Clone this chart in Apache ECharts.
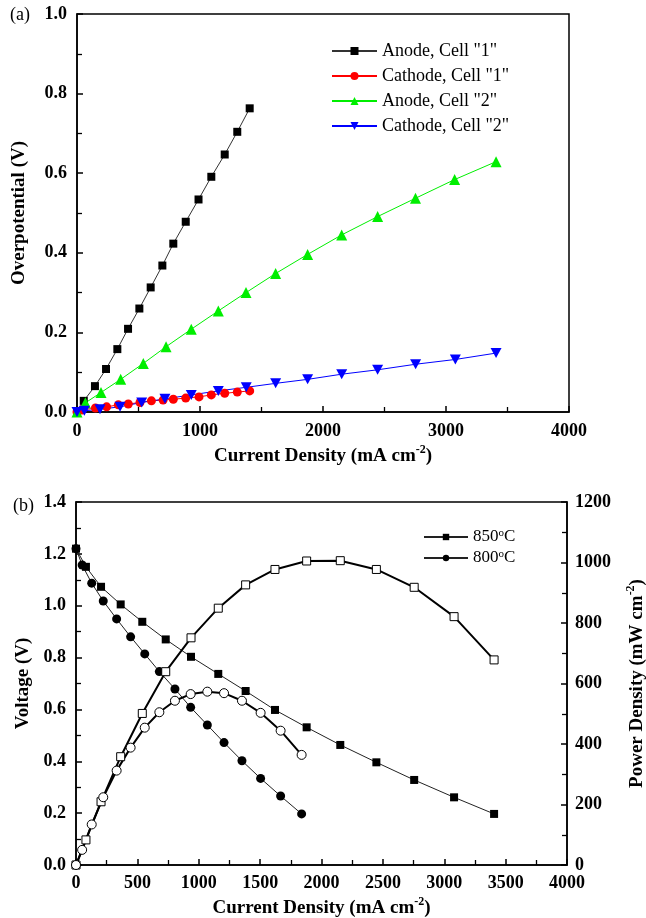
<!DOCTYPE html>
<html>
<head>
<meta charset="utf-8">
<script src="https://cdn.jsdelivr.net/npm/echarts@6/dist/echarts.min.js"></script>
<style>
html,body{margin:0;padding:0;background:#fff;}
#chart{width:646px;height:918px;}
</style>
</head>
<body>
<div id="chart"></div>
<script>
// ---------- Panel (a): overpotential ----------
const jAnode1 = [0, 55, 146, 236, 328, 415, 507, 599, 694, 783, 884, 988, 1092, 1201, 1303, 1404];
const vAnode1 = [0, 0.028, 0.065, 0.108, 0.158, 0.209, 0.260, 0.313, 0.368, 0.423, 0.478, 0.534, 0.591, 0.647, 0.704, 0.763];

const jCathode1 = [0, 40, 150, 241, 336, 417, 512, 605, 700, 783, 884, 992, 1092, 1201, 1303, 1404];
const vCathode1 = [0, 0.005, 0.010, 0.013, 0.018, 0.020, 0.024, 0.028, 0.030, 0.032, 0.035, 0.038, 0.043, 0.047, 0.050, 0.053];

const jAnode2 = [0, 68, 195, 355, 539, 724, 929, 1149, 1374, 1615, 1875, 2152, 2444, 2752, 3070, 3407];
const vAnode2 = [0, 0.023, 0.049, 0.082, 0.122, 0.164, 0.208, 0.254, 0.300, 0.348, 0.396, 0.445, 0.491, 0.537, 0.584, 0.629];

const jCathode2 = [0, 60, 187, 350, 526, 715, 929, 1149, 1376, 1615, 1875, 2152, 2444, 2753, 3076, 3407];
const vCathode2 = [0, 0.003, 0.007, 0.013, 0.024, 0.033, 0.043, 0.053, 0.062, 0.072, 0.082, 0.095, 0.106, 0.120, 0.132, 0.148];

// ---------- Panel (b): voltage & power density ----------
const j850 = [0, 81, 204, 364, 540, 731, 937, 1159, 1382, 1621, 1879, 2153, 2447, 2755, 3080, 3406];
const v850 = [1.22, 1.150, 1.073, 1.005, 0.938, 0.870, 0.803, 0.737, 0.671, 0.598, 0.531, 0.463, 0.396, 0.328, 0.261, 0.197];
const p850 = [0, 83, 209, 358, 501, 639, 751, 849, 926, 977, 1005, 1006, 977, 918, 821, 678];

const j800 = [0, 50, 128, 222, 331, 445, 560, 679, 806, 934, 1070, 1206, 1352, 1504, 1667, 1838];
const v800 = [1.22, 1.157, 1.087, 1.018, 0.949, 0.880, 0.814, 0.746, 0.679, 0.608, 0.540, 0.472, 0.402, 0.334, 0.266, 0.197];
const p800 = [0, 50, 134, 224, 312, 388, 454, 505, 543, 565, 573, 568, 543, 503, 444, 364];

const legendA = ['Anode, Cell "1"', 'Cathode, Cell "1"', 'Anode, Cell "2"', 'Cathode, Cell "2"'];
const legendB = ['850', '800'];

function pairs(xs, ys) { return xs.map((x, i) => [x, ys[i]]); }

const SERIF = '"Liberation Serif", "Times New Roman", serif';
const tickLabel = {fontFamily: SERIF, fontWeight: 'bold', fontSize: 18, color: '#000'};
const axisLine = {show: true, onZero: false, lineStyle: {color: '#000', width: 1.5}};
const tick = {show: true, inside: true, length: 6, lineStyle: {color: '#000', width: 1.5}};
const minor = {show: true, splitNumber: 2, length: 5, lineStyle: {color: '#000', width: 1.3}};
const nameStyle = {
  fontFamily: SERIF, fontWeight: 'bold', fontSize: 19, color: '#000',
  rich: {
    s: {fontFamily: SERIF, fontWeight: 'bold', fontSize: 12, color: '#000', verticalAlign: 'top', lineHeight: 24}
  }
};
const DOWN_TRI = 'path://M0,0 L10,0 L5,9 Z';
const intFmt = v => String(Math.round(v));

const chart = echarts.init(document.getElementById('chart'), null, {renderer: 'canvas'});
chart.setOption({
  backgroundColor: '#fff',
  animation: false,
  grid: [
    {left: 77, top: 14, width: 492, height: 398, show: true, borderColor: '#000', borderWidth: 1.5,
     backgroundColor: 'transparent', containLabel: false, outerBoundsMode: 'none'},
    {left: 76, top: 502, width: 491, height: 363, show: true, borderColor: '#000', borderWidth: 1.5,
     backgroundColor: 'transparent', containLabel: false, outerBoundsMode: 'none'}
  ],
  xAxis: [
    {gridIndex: 0, type: 'value', min: 0, max: 4000, interval: 1000,
     axisLine, axisTick: tick, minorTick: minor, splitLine: {show: false},
     axisLabel: Object.assign({margin: 10, formatter: intFmt}, tickLabel),
     name: 'Current Density (mA cm{s|-2})', nameLocation: 'middle', nameGap: 32, nameTextStyle: nameStyle},
    {gridIndex: 1, type: 'value', min: 0, max: 4000, interval: 500,
     axisLine, axisTick: tick, minorTick: minor, splitLine: {show: false},
     axisLabel: Object.assign({margin: 9, formatter: intFmt}, tickLabel),
     name: 'Current Density (mA cm{s|-2})', nameLocation: 'middle', nameGap: 31, nameTextStyle: nameStyle}
  ],
  yAxis: [
    {gridIndex: 0, type: 'value', min: 0, max: 1.0, interval: 0.2,
     axisLine, axisTick: tick, minorTick: minor, splitLine: {show: false},
     axisLabel: Object.assign({margin: 10, formatter: v => v.toFixed(1)}, tickLabel),
     name: 'Overpotential (V)', nameLocation: 'middle', nameGap: 48, nameRotate: 90, nameTextStyle: nameStyle},
    {gridIndex: 1, type: 'value', min: 0, max: 1.4, interval: 0.2,
     axisLine, axisTick: tick, minorTick: minor, splitLine: {show: false},
     axisLabel: Object.assign({margin: 10, formatter: v => v.toFixed(1)}, tickLabel),
     name: 'Voltage (V)', nameLocation: 'middle', nameGap: 40, nameRotate: 90, nameTextStyle: nameStyle},
    {gridIndex: 1, type: 'value', position: 'right', min: 0, max: 1200, interval: 200,
     axisLine, axisTick: tick, minorTick: minor, splitLine: {show: false},
     axisLabel: Object.assign({margin: 8, formatter: intFmt}, tickLabel),
     name: 'Power Density (mW cm{s|-2})', nameLocation: 'middle', nameGap: 58, nameRotate: 90, nameTextStyle: nameStyle}
  ],
  legend: [
    {data: legendA, left: 326, top: 37, orient: 'vertical', itemWidth: 45, itemHeight: 10, itemGap: 7,
     textStyle: {fontFamily: SERIF, fontSize: 18, color: '#000'}},
    {data: legendB, left: 418, top: 523, orient: 'vertical', itemWidth: 44, itemHeight: 8, itemGap: 3,
     formatter: n => n + '{sup|o}C',
     textStyle: {fontFamily: SERIF, fontSize: 17, color: '#000', lineHeight: 18,
       rich: {sup: {fontFamily: SERIF, fontSize: 11, color: '#000', verticalAlign: 'top', lineHeight: 18}}}}
  ],
  graphic: [
    {type: 'text', left: 10, top: 6, style: {text: '(a)', font: '18px ' + SERIF, fill: '#000'}},
    {type: 'text', left: 13, top: 497, style: {text: '(b)', font: '18px ' + SERIF, fill: '#000'}}
  ],
  series: [
    {name: legendA[0], type: 'line', xAxisIndex: 0, yAxisIndex: 0, data: pairs(jAnode1, vAnode1),
     symbol: 'rect', symbolSize: 8, itemStyle: {color: '#000'}, lineStyle: {color: '#333', width: 1}},
    {name: legendA[1], type: 'line', xAxisIndex: 0, yAxisIndex: 0, data: pairs(jCathode1, vCathode1),
     symbol: 'circle', symbolSize: 9, itemStyle: {color: '#ff0000'}, lineStyle: {color: '#ff0000', width: 1}},
    {name: legendA[2], type: 'line', xAxisIndex: 0, yAxisIndex: 0, data: pairs(jAnode2, vAnode2),
     symbol: 'triangle', symbolSize: 11, itemStyle: {color: '#00ee00'}, lineStyle: {color: '#00ee00', width: 1}},
    {name: legendA[3], type: 'line', xAxisIndex: 0, yAxisIndex: 0, data: pairs(jCathode2, vCathode2),
     symbol: DOWN_TRI, symbolSize: [11, 10], itemStyle: {color: '#0000ff'}, lineStyle: {color: '#0000ff', width: 1}},

    {name: legendB[0], type: 'line', xAxisIndex: 1, yAxisIndex: 1, data: pairs(j850, v850),
     symbol: 'rect', symbolSize: 8, itemStyle: {color: '#000'}, lineStyle: {color: '#222', width: 1}},
    {name: legendB[1], type: 'line', xAxisIndex: 1, yAxisIndex: 1, data: pairs(j800, v800),
     symbol: 'circle', symbolSize: 9, itemStyle: {color: '#000'}, lineStyle: {color: '#222', width: 1}},
    {name: 'P850', type: 'line', xAxisIndex: 1, yAxisIndex: 2, data: pairs(j850, p850),
     symbol: 'rect', symbolSize: 8, itemStyle: {color: '#fff', borderColor: '#000', borderWidth: 1},
     lineStyle: {color: '#000', width: 2}},
    {name: 'P800', type: 'line', xAxisIndex: 1, yAxisIndex: 2, data: pairs(j800, p800),
     symbol: 'circle', symbolSize: 9, itemStyle: {color: '#fff', borderColor: '#000', borderWidth: 1},
     lineStyle: {color: '#000', width: 2}}
  ]
});
</script>
</body>
</html>
